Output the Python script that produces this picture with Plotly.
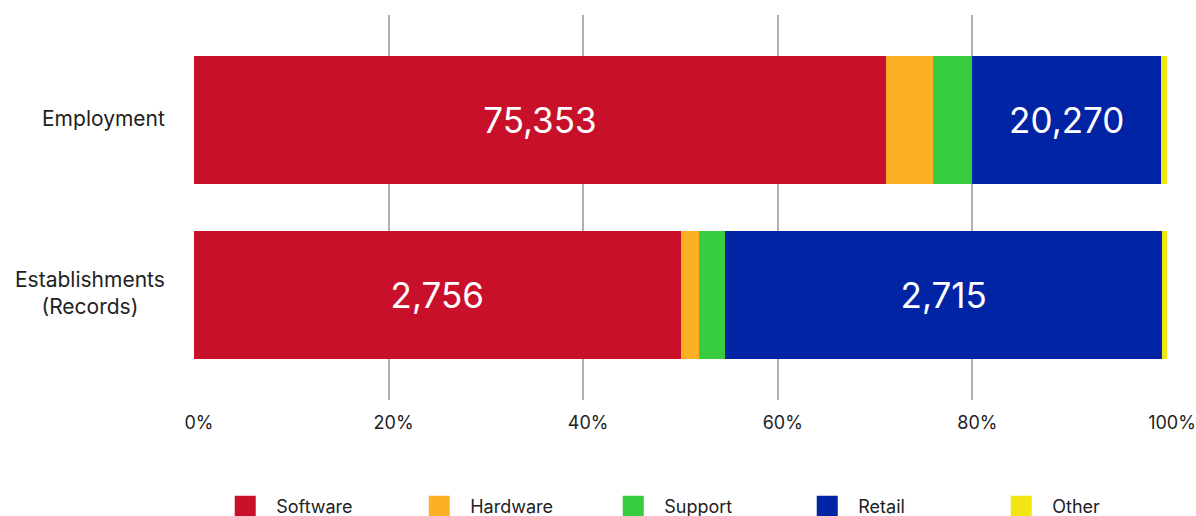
import plotly.graph_objects as go

# ---- data ----
categories = ["Employment", "Establishments<br>(Records)"]
series = ["Software", "Hardware", "Support", "Retail", "Other"]
colors = ["#C9102A", "#FDB026", "#38CD41", "#0024A3", "#F1E514"]
# share of each bar (percent), per series: [Employment, Establishments]
software_share = [71.1, 50.0]
hardware_share = [4.9, 1.9]
support_share = [4.0, 2.7]
retail_share = [19.4, 44.9]
other_share = [0.6, 0.5]
# value labels shown inside the bars
software_labels = ["75,353", "2,756"]
retail_labels = ["20,270", "2,715"]

shares = [software_share, hardware_share, support_share, retail_share, other_share]
labels = [software_labels, None, None, retail_labels, None]

tick_vals = [0, 20, 40, 60, 80, 100]
tick_text = ["0%", "20%", "40%", "60%", "80%", "100%"]

FONT = "Inter"

fig = go.Figure()
for name, col, sh, lab in zip(series, colors, shares, labels):
    fig.add_trace(go.Bar(
        y=categories, x=sh, name=name, orientation="h",
        marker=dict(color=col, line=dict(width=0)),
        text=lab if lab else None,
        texttemplate="%{text}" if lab else None,
        textposition="inside" if lab else "none",
        insidetextanchor="middle",
        textfont=dict(family=FONT, size=35, color="white"),
        showlegend=False, hoverinfo="skip",
    ))
    # legend proxy (large square swatch)
    fig.add_trace(go.Scatter(
        x=[None], y=[None], mode="markers", name=name,
        marker=dict(symbol="square", size=16, color=col,
                    line=dict(width=5, color=col)),
        showlegend=True, hoverinfo="skip",
    ))

for cat in categories:
    fig.add_annotation(
        text=cat, xref="paper", yref="y", x=0, y=cat,
        xanchor="right", yanchor="middle", xshift=-27, yshift=2,
        align="center", showarrow=False,
        font=dict(family=FONT, size=21, color="#222222"),
    )

fig.update_layout(
    width=1196, height=516,
    margin=dict(l=194, r=29, t=15, b=116, autoexpand=False),
    barmode="stack", bargap=0.263,
    plot_bgcolor="white", paper_bgcolor="white",
    font=dict(family=FONT, color="#222222"),
    xaxis=dict(range=[0, 100], tickvals=tick_vals, ticktext=tick_text,
               showgrid=True, gridcolor="#b0b0b0", gridwidth=1.5,
               zeroline=False, showline=False, ticks="",
               tickfont=dict(family=FONT, size=18, color="#222222"),
               ticklabelshift=5, ticklabelstandoff=10),
    yaxis=dict(type="category", categoryorder="array",
               categoryarray=list(reversed(categories)),
               range=[-0.6, 1.6], showticklabels=False, showgrid=False,
               zeroline=False, showline=False),
    legend=dict(orientation="h", x=0.0208, xanchor="left", y=-0.229, yanchor="top",
                traceorder="normal",
                entrywidth=127, entrywidthmode="pixels", itemsizing="trace",
                itemwidth=52,
                font=dict(family=FONT, size=18, color="#222222"),
                bgcolor="rgba(0,0,0,0)"),
)

fig.write_html("out.html")
